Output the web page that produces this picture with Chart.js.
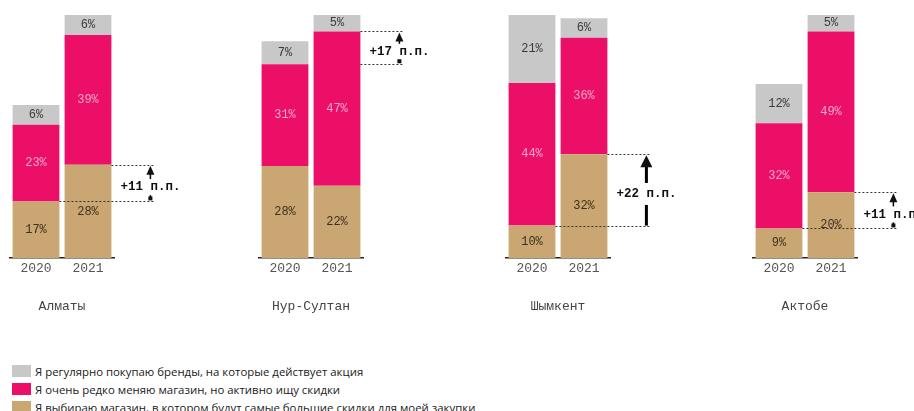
<!DOCTYPE html>
<html>
<head>
<meta charset="utf-8">
<script src="https://cdn.jsdelivr.net/npm/chart.js@4"></script>
<style>
  html, body { margin: 0; padding: 0; background: #fff; overflow: hidden; }
  body { width: 914px; height: 411px; position: relative; }
  .panel { position: absolute; top: 0; width: 190px; height: 334px; }
  .panel canvas { display: block; }
  #legend { position: absolute; left: 12px; top: 362px; font-family: "Open Sans", sans-serif; font-size: 11.4px; color: #1a1a1a; }
  .row { height: 18px; display: flex; align-items: center; white-space: nowrap; }
  .sw { width: 19px; height: 12px; margin-right: 4px; flex: none; }
</style>
</head>
<body>
<div class="panel" style="left:0px"><canvas id="c0" width="190" height="334"></canvas></div>
<div class="panel" style="left:249px"><canvas id="c1" width="190" height="334"></canvas></div>
<div class="panel" style="left:496px"><canvas id="c2" width="190" height="334"></canvas></div>
<div class="panel" style="left:743px"><canvas id="c3" width="190" height="334"></canvas></div>
<div id="legend"></div>
<script>
const cities = ['Алматы', 'Нур-Султан', 'Шымкент', 'Актобе'];
const years = ['2020', '2021'];

// bottom to top in each bar
const seriesNames = [
    'Я выбираю магазин, в котором будут самые большие скидки для моей закупки',
    'Я очень редко меняю магазин, но активно ищу скидки',
    'Я регулярно покупаю бренды, на которые действует акция'
];
const bestDiscount = [[17, 28], [28, 22], [10, 32], [9, 20]];
const rarelyChange = [[23, 39], [31, 47], [44, 36], [32, 49]];
const promoBrands = [[6, 6], [7, 5], [21, 6], [12, 5]];

// "+N п.п." notes: text and how many series from the bottom are summed
const noteText = ['+11 п.п.', '+17 п.п.', '+22 п.п.', '+11 п.п.'];
const noteStack = [1, 2, 1, 1];

const colors = ['#c9a672', '#ec0f68', '#c8c8c8'];
const labelColors = ['#3d3120', '#f6a9c9', '#3a3a3a'];
const monoFont = '"Liberation Mono", monospace';

const allSeries = [bestDiscount, rarelyChange, promoBrands];

// legend, top row = top segment
const legend = document.getElementById('legend');
for (let s = 2; s >= 0; s--) {
    const row = document.createElement('div');
    row.className = 'row';
    row.innerHTML = `<span class="sw" style="background:${colors[s]}"></span><span>${seriesNames[s]}</span>`;
    legend.appendChild(row);
}

const stackSum = (k, yr, n) => {
    let t = 0;
    for (let s = 0; s < n; s++) t += allSeries[s][k][yr];
    return t;
};

const segLabels = {
    id: 'segLabels',
    afterDatasetsDraw(chart) {
        const ctx = chart.ctx;
        ctx.save();
        ctx.font = '12px ' + monoFont;
        ctx.textAlign = 'center';
        ctx.textBaseline = 'middle';
        chart.data.datasets.forEach((ds, s) => {
            chart.getDatasetMeta(s).data.forEach((bar, j) => {
                ctx.fillStyle = labelColors[s];
                ctx.fillText(ds.data[j] + '%', bar.x, (bar.y + bar.base) / 2);
            });
        });
        ctx.restore();
    }
};

const gapNote = {
    id: 'gapNote',
    afterDatasetsDraw(chart, args, opts) {
        const k = opts.panel;
        const n = noteStack[k];
        const ctx = chart.ctx;
        const y = chart.scales.y;
        const bars = chart.getDatasetMeta(0).data;
        const lo = y.getPixelForValue(stackSum(k, 0, n));
        const hi = y.getPixelForValue(stackSum(k, 1, n));
        const r0 = bars[0].x + bars[0].width / 2;
        const r1 = bars[1].x + bars[1].width / 2;
        const end = r1 + 42;
        const ax = end - 3;
        const thick = k === 2;

        ctx.save();
        ctx.strokeStyle = '#333';
        ctx.lineWidth = 1;
        ctx.setLineDash([2, 2]);
        ctx.beginPath();
        ctx.moveTo(k === 1 ? r1 : r0, Math.round(lo) + 0.5);
        ctx.lineTo(end, Math.round(lo) + 0.5);
        ctx.moveTo(r1, Math.round(hi) + 0.5);
        ctx.lineTo(end, Math.round(hi) + 0.5);
        ctx.stroke();
        ctx.setLineDash([]);

        const ty = (lo + hi) / 2 + 4;
        ctx.font = 'bold 12.5px ' + monoFont;
        const tw = ctx.measureText(noteText[k]).width;

        // shaft
        ctx.strokeStyle = '#000';
        ctx.lineWidth = thick ? 3 : 1.5;
        ctx.beginPath();
        ctx.moveTo(ax, lo - (thick ? 0 : 3));
        ctx.lineTo(ax, hi + 8);
        ctx.stroke();

        ctx.fillStyle = '#fff';
        ctx.fillRect(ax - tw / 2 - 2, ty - (thick ? 11 : 8), tw + 4, thick ? 22 : 16);

        ctx.fillStyle = '#111';
        ctx.textAlign = 'center';
        ctx.textBaseline = 'middle';
        ctx.fillText(noteText[k], ax, ty);

        // head
        const hw = thick ? 6 : 4;
        const hh = thick ? 12 : 9;
        ctx.beginPath();
        ctx.moveTo(ax, hi + 1);
        ctx.lineTo(ax - hw, hi + 1 + hh);
        ctx.lineTo(ax + hw, hi + 1 + hh);
        ctx.closePath();
        ctx.fill();
        if (!thick) ctx.fillRect(ax - 2, lo - 5, 4, 4);
        ctx.restore();
    }
};

cities.forEach((city, k) => {
    const maxTotal = Math.max(...years.map((_, j) => stackSum(k, j, 3)));
    new Chart(document.getElementById('c' + k), {
        type: 'bar',
        data: {
            labels: years,
            datasets: allSeries.map((arr, s) => ({
                label: seriesNames[s],
                data: arr[k],
                backgroundColor: colors[s],
                borderWidth: 0,
                categoryPercentage: 1,
                barPercentage: 0.9
            }))
        },
        options: {
            responsive: false,
            animation: false,
            layout: { padding: { left: 10, right: 76, top: 15, bottom: 0 } },
            plugins: {
                legend: { display: false },
                tooltip: { enabled: false },
                gapNote: { panel: k }
            },
            scales: {
                x: {
                    stacked: true,
                    grid: { display: false, drawTicks: false },
                    border: { display: true, color: '#222', width: 1.5 },
                    ticks: { color: '#555', font: { family: monoFont, size: 13 }, padding: 3 },
                    title: {
                        display: true,
                        text: city,
                        color: '#444',
                        font: { family: monoFont, size: 13 },
                        padding: { top: 19.6, bottom: 19.2 }
                    }
                },
                y: { stacked: true, display: false, min: 0, max: maxTotal }
            }
        },
        plugins: [segLabels, gapNote]
    });
});
</script>
</body>
</html>
